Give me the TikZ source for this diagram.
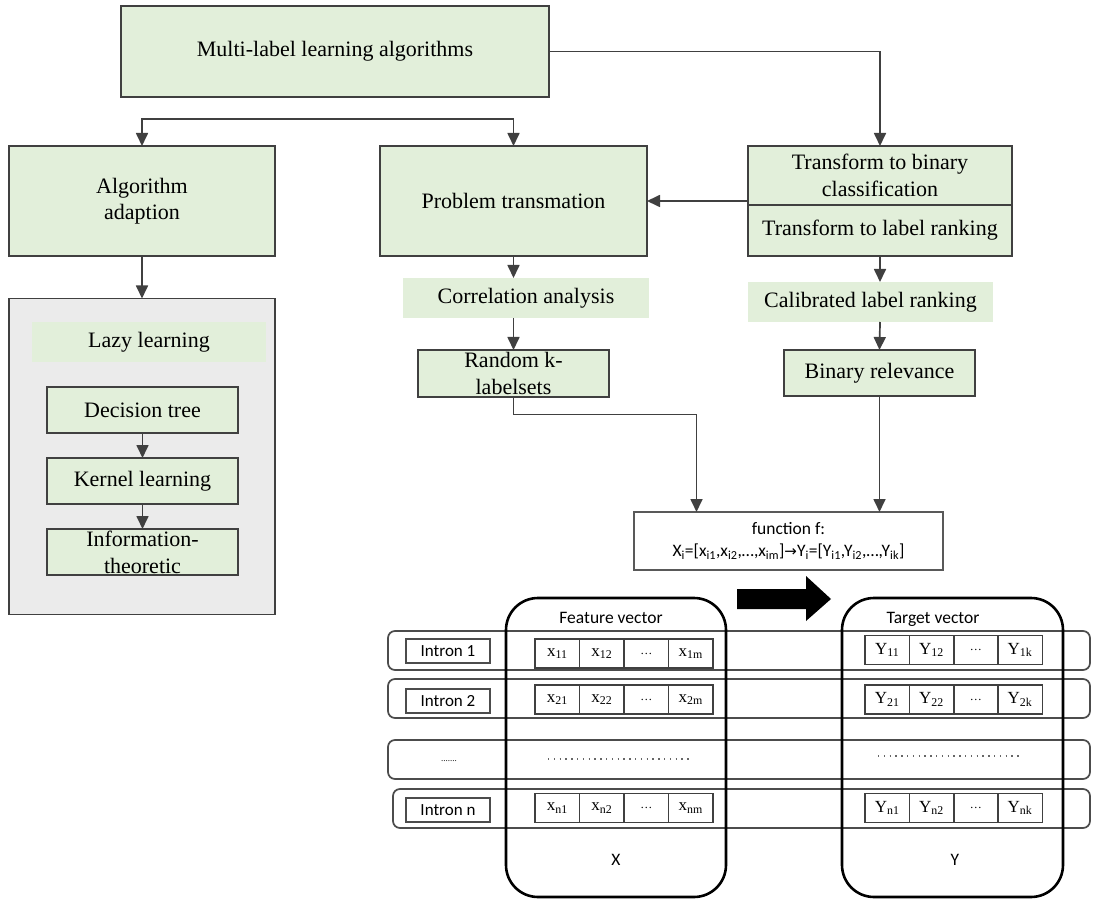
\documentclass[tikz,border=0pt]{standalone}
\usepackage{fontspec}
\setmainfont{Liberation Serif}
\newfontfamily\califont{Carlito}
\newfontfamily\symfont{DejaVu Sans}
\usetikzlibrary{arrows.meta,calc}
\definecolor{gfill}{HTML}{E2EFDA}
\definecolor{gline}{HTML}{404040}
\definecolor{gback}{HTML}{EBEBEB}
\tikzset{
  every node/.style={inner sep=0pt, outer sep=0pt},
  gbox/.style={draw=gline, line width=1.6pt, fill=gfill, align=center, font=\fontsize{22}{26}\selectfont},
  band/.style={fill=gfill, align=center, font=\fontsize{22}{26}\selectfont},
  arr/.style={draw=gline, line width=1.7pt, -{Triangle[length=13pt,width=12pt]}},
  arrboth/.style={draw=gline, line width=1.7pt, {Triangle[length=13pt,width=12pt]}-{Triangle[length=13pt,width=12pt]}},
  fnbox/.style={draw=black!65, line width=1.6pt, fill=white, align=center, font=\califont\fontsize{17.5}{22}\selectfont},
  vecrect/.style={draw=black, line width=2.6pt, rounded corners=32pt},
  rowrect/.style={draw=black!70, line width=1.7pt, rounded corners=7pt},
  intron/.style={draw=black!70, line width=1.7pt, minimum width=84pt, minimum height=24pt, font=\califont\fontsize{17}{18}\selectfont},
  cell/.style={draw=black!75, line width=1.5pt, minimum width=44.5pt, minimum height=29pt, font=\fontsize{17}{18}\selectfont},
  small/.style={font=\califont\fontsize{17.5}{18}\selectfont},
}
\begin{document}
\begin{tikzpicture}[x=1pt,y=-1pt]
\useasboundingbox (0,0) rectangle (1093,901);
% upper part
\node[gbox, minimum width=428pt, minimum height=91pt] (top) at (335,51.5) {Multi-label learning algorithms};
\node[gbox, minimum width=266pt, minimum height=110pt] (alg) at (142,201) {Algorithm\\adaption};
\node[gbox, minimum width=267pt, minimum height=110pt] (prob) at (513.5,201) {Problem transmation};
\node[gbox, minimum width=264pt, minimum height=59pt, font=\fontsize{22}{27}\selectfont] (tb1) at (880,175.5) {Transform to binary\\classification};
\node[gbox, minimum width=264pt, minimum height=51pt] (tb2) at (880,230.5) {Transform to label ranking};
% left column
\node[draw=gline, line width=1.6pt, fill=gback, minimum width=266pt, minimum height=316pt] (grey) at (142,456.5) {};
\node[band, minimum width=234pt, minimum height=40pt] (lazy) at (149,342) {Lazy learning};
\node[gbox, minimum width=191pt, minimum height=46pt] (dt) at (142.5,410) {Decision tree};
\node[gbox, minimum width=191pt, minimum height=46pt] (kl) at (142.5,481) {Kernel learning};
\node[gbox, minimum width=191pt, minimum height=46pt, font=\fontsize{22}{27}\selectfont] (it) at (142.5,552) {Information-\\theoretic};
% middle column
\node[band, minimum width=246pt, minimum height=40pt] (corr) at (526,298) {Correlation analysis};
\node[gbox, minimum width=191pt, minimum height=47pt, font=\fontsize{22}{27}\selectfont] (rk) at (513.5,373.5) {Random k-\\labelsets};
% right column
\node[band, minimum width=245pt, minimum height=40pt] (cal) at (870.5,302) {Calibrated label ranking};
\node[gbox, minimum width=191pt, minimum height=46pt] (br) at (879.5,373) {Binary relevance};
% function box
\node[fnbox, minimum width=309pt, minimum height=58pt] (fn) at (788.5,541) {function f:\\X\textsubscript{i}=[x\textsubscript{i1},x\textsubscript{i2},\dots,x\textsubscript{im}]{\symfont\fontsize{15}{15}\selectfont→}Y\textsubscript{i}=[Y\textsubscript{i1},Y\textsubscript{i2},\dots,Y\textsubscript{ik}]};
\coordinate (fnA) at ($(fn.north west)+(62.5,0)$);
% connectors
\draw[arr] (top.east) -| (tb1.north);
\draw[arrboth] (alg.north) -- ++(0,-27) -| (prob.north);
\draw[arr] (alg.south) -- (grey.north);
\draw[arr] (dt.south) -- (kl.north);
\draw[arr] (kl.south) -- (it.north);
\draw[arr] (tb1.west |- prob.east) -- (prob.east);
\draw[arr] (prob.south) -- (prob.south |- corr.north);
\draw[arr] (prob.south |- corr.south) -- (rk.north);
\draw[arr] (tb2.south) -- (tb2.south |- cal.north);
\draw[arr] (tb2.south |- cal.south) -- (br.north);
\draw[arr] (rk.south) -- ++(0,17.5) -| (fnA);
\draw[arr] (br.south) -- (br.south |- fn.north);
% big arrow
\fill[black] (737,589) -- (806,589) -- (806,576) -- (831,599) -- (806,621) -- (806,609) -- (737,609) -- cycle;
% rows
\draw[rowrect] (388,631) rectangle (1090,670);
\draw[rowrect] (388,679) rectangle (1090,718);
\draw[rowrect] (388,740) rectangle (1090,779);
\draw[rowrect] (393,789) rectangle (1090,828);
% vector frames
\draw[vecrect] (506,598) rectangle (726,897);
\draw[vecrect] (842,598) rectangle (1063,897);
\node[small] (fv) at (611,618) {Feature vector};
\node[small] (tv) at (933,619) {Target vector};
\node[small] (xl) at (616,860) {X};
\node[small] (yl) at (955,860) {Y};
% intron boxes
\node[intron] (in1) at (448,651) {Intron 1};
\node[intron] (in2) at (448,701) {Intron 2};
\node[intron] (inn) at (448,810) {Intron n};
\node[font=\fontsize{9}{10}\selectfont] (dd) at (449,761) {.......};
% X cells
\foreach \t [count=\i] in {x\textsubscript{11},x\textsubscript{12},{\fontsize{12}{12}\selectfont\dots},x\textsubscript{1m}}
  \node[cell] (xa\i) at (557.25+44.5*\i-44.5,653.5) {\t};
\foreach \t [count=\i] in {x\textsubscript{21},x\textsubscript{22},{\fontsize{12}{12}\selectfont\dots},x\textsubscript{2m}}
  \node[cell] (xb\i) at (557.25+44.5*\i-44.5,699.5) {\t};
\foreach \t [count=\i] in {x\textsubscript{n1},x\textsubscript{n2},{\fontsize{12}{12}\selectfont\dots},x\textsubscript{nm}}
  \node[cell] (xn\i) at (557.25+44.5*\i-44.5,808) {\t};
% Y cells
\foreach \t [count=\i] in {Y\textsubscript{11},Y\textsubscript{12},{\fontsize{12}{12}\selectfont\dots},Y\textsubscript{1k}}
  \node[cell] (ya\i) at (887.25+44.25*\i-44.25,650) {\t};
\foreach \t [count=\i] in {Y\textsubscript{21},Y\textsubscript{22},{\fontsize{12}{12}\selectfont\dots},Y\textsubscript{2k}}
  \node[cell] (yb\i) at (887.25+44.25*\i-44.25,699.5) {\t};
\foreach \t [count=\i] in {Y\textsubscript{n1},Y\textsubscript{n2},{\fontsize{12}{12}\selectfont\dots},Y\textsubscript{nk}}
  \node[cell] (yn\i) at (887.25+44.25*\i-44.25,808) {\t};
% dotted rows
\draw[black!60, line width=1.3pt, dash pattern=on 1.3pt off 4.5pt] (548,759) -- (692,759);
\draw[black!60, line width=1.3pt, dash pattern=on 1.3pt off 4.5pt] (878,756) -- (1022,756);
\end{tikzpicture}
\end{document}
